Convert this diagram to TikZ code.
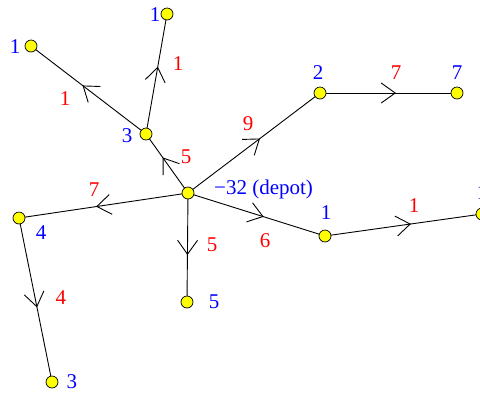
\documentclass[tikz,border=0pt]{standalone}
\usepackage{fontspec}
\setmainfont{Liberation Serif}
\usetikzlibrary{arrows.meta,decorations.markings}
\definecolor{nodeyellow}{RGB}{255,255,0}
\definecolor{lblblue}{RGB}{0,0,255}
\definecolor{lblred}{RGB}{255,0,0}
\tikzset{
  vtx/.style={circle,fill=nodeyellow,draw=black,line width=0.7pt,inner sep=0pt,minimum size=12pt},
  nlbl/.style={text=lblblue,font=\fontsize{21}{25}\selectfont,inner sep=0pt},
  elbl/.style={text=lblred,font=\fontsize{21}{25}\selectfont,inner sep=0pt},
  flow/.style={draw=black,line width=0.9pt,postaction={decorate},
    decoration={markings,mark=at position 0.5 with {\arrow[xshift=7.5pt]{Straight Barb[length=14pt,width=20pt,line width=0.9pt]}}}}
}
\begin{document}
\begin{tikzpicture}[x=1pt,y=-1pt]
\useasboundingbox (0,0) rectangle (480,392);
\clip (0,0) rectangle (480,392);
% vertices
\coordinate (Dp) at (188,193);
\coordinate (A3p) at (146,134);
\coordinate (A1p) at (31,46);
\coordinate (B1p) at (167,14);
\coordinate (C2p) at (320,93);
\coordinate (C7p) at (457,93);
\coordinate (D1p) at (325,236);
\coordinate (E1p) at (482,214);
\coordinate (F4p) at (19,218);
\coordinate (G3p) at (52,382);
\coordinate (H5p) at (187,302);
% edges
\draw[flow] (Dp) -- (A3p);
\draw[flow] (A3p) -- (A1p);
\draw[flow] (A3p) -- (B1p);
\draw[flow] (Dp) -- (C2p);
\draw[flow] (C2p) -- (C7p);
\draw[flow] (Dp) -- (D1p);
\draw[flow] (D1p) -- (E1p);
\draw[flow] (Dp) -- (F4p);
\draw[flow] (F4p) -- (G3p);
\draw[flow] (Dp) -- (H5p);
% vertex circles
\node[vtx] (D) at (Dp) {};
\node[vtx] (A3) at (A3p) {};
\node[vtx] (A1) at (A1p) {};
\node[vtx] (B1) at (B1p) {};
\node[vtx] (C2) at (C2p) {};
\node[vtx] (C7) at (C7p) {};
\node[vtx] (D1) at (D1p) {};
\node[vtx] (E1) at (E1p) {};
\node[vtx] (F4) at (F4p) {};
\node[vtx] (G3) at (G3p) {};
\node[vtx] (H5) at (H5p) {};
% vertex labels
\node[nlbl,anchor=west] (lD) at (214,189) {−32 (depot)};
\node[nlbl] (lA3) at (127,136) {3};
\node[nlbl] (lA1) at (15,47) {1};
\node[nlbl] (lB1) at (155,15) {1};
\node[nlbl] (lC2) at (318,73) {2};
\node[nlbl] (lC7) at (457,73) {7};
\node[nlbl] (lD1) at (326,213) {1};
\node[nlbl] (lE1) at (482,193) {1};
\node[nlbl] (lF4) at (41,233) {4};
\node[nlbl] (lG3) at (72,382) {3};
\node[nlbl] (lH5) at (214,302) {5};
% edge labels
\node[elbl] (eDA3) at (186,157) {5};
\node[elbl] (eA3A1) at (65,99) {1};
\node[elbl] (eA3B1) at (178,64) {1};
\node[elbl] (eDC2) at (248,124) {9};
\node[elbl] (eC2C7) at (396,73) {7};
\node[elbl] (eDD1) at (265,241) {6};
\node[elbl] (eD1E1) at (414,206) {1};
\node[elbl] (eDF4) at (94,190) {7};
\node[elbl] (eF4G3) at (61,298) {4};
\node[elbl] (eDH5) at (212,245) {5};
\end{tikzpicture}
\end{document}
